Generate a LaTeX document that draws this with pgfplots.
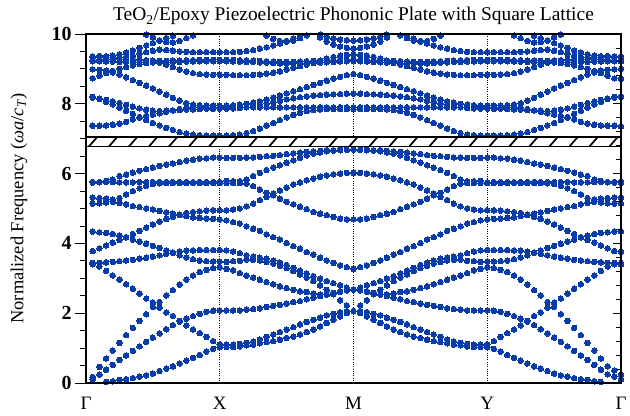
\documentclass[border=0pt]{standalone}
\usepackage{fontspec}
\setmainfont{Liberation Serif}
\usepackage{pgfplots}
\usepackage{pgfplotstable}
\pgfplotsset{compat=1.18}
\definecolor{dotblue}{RGB}{8,60,170}

% Gamma -> X
\pgfplotstableread{
band 0.05 0.10 0.15 0.20 0.25 0.30 0.35 0.40 0.45 0.50 0.55 0.60 0.65 0.70 0.75 0.80 0.85 0.90 0.95 1.00
A nan nan 0.03 0.05 0.09 0.11 0.14 0.18 0.22 0.27 0.34 0.41 0.48 0.56 0.64 0.72 0.80 0.90 0.98 1.03
B 0.10 0.24 0.38 0.52 0.66 0.79 0.92 1.05 1.18 1.30 1.42 1.54 1.66 1.76 1.84 1.92 1.98 2.04 2.07 2.08
C 0.17 0.46 0.70 0.93 1.15 1.37 1.58 1.78 1.97 2.18 2.32 2.51 2.66 2.82 2.96 3.08 3.18 3.24 3.29 3.31
D 3.44 3.34 3.21 3.08 2.96 2.83 2.70 2.56 2.42 2.30 2.16 2.02 1.92 1.78 1.65 1.53 1.43 1.32 1.20 1.11
E 3.40 3.44 3.46 3.47 3.49 3.51 3.53 3.56 3.59 3.62 3.66 3.70 3.74 3.77 3.79 3.80 3.81 3.81 3.81 3.81
F 3.78 3.86 3.94 4.02 4.10 4.18 4.27 4.36 4.45 4.54 4.62 4.70 4.76 4.82 4.87 4.90 4.92 4.94 4.95 4.95
G 4.34 4.32 4.30 4.27 4.22 4.17 4.11 4.05 3.99 3.93 3.87 3.80 3.73 3.66 3.60 3.55 3.51 3.49 3.48 3.48
H 5.14 5.15 5.17 5.19 5.16 5.12 5.07 5.04 5.00 4.97 4.93 4.89 4.85 4.81 4.78 4.75 4.73 4.71 4.70 4.69
H1 5.31 5.30 5.28 5.26 5.30 5.40 5.50 5.58 5.65 5.70 5.72 5.73 5.73 5.73 5.73 5.73 5.73 5.73 5.73 5.73
J 5.74 5.75 5.76 5.76 5.75 5.75 5.75 5.76 5.76 5.76 5.76 5.76 5.76 5.76 5.76 5.76 5.76 5.76 5.76 5.76
I 5.76 5.76 5.79 5.83 5.93 5.97 6.03 6.08 6.13 6.17 6.22 6.26 6.29 6.33 6.37 6.40 6.43 6.44 6.46 6.46
K1 7.37 7.37 7.38 7.40 7.43 7.48 7.55 7.60 7.65 7.69 7.73 7.77 7.81 7.85 7.88 7.89 7.90 7.90 7.90 7.90
L1 8.20 8.14 8.06 7.98 7.89 7.80 7.71 7.62 7.53 7.45 7.38 7.31 7.25 7.19 7.15 7.12 7.10 7.09 7.09 7.09
L2 8.18 8.15 8.11 8.07 8.02 7.97 7.92 7.87 7.83 7.80 7.79 7.80 7.81 7.82 7.83 7.84 7.85 7.86 7.86 7.86
D2 8.99 8.97 8.95 8.90 8.84 8.76 8.68 8.60 8.52 8.44 8.35 8.26 8.17 8.09 8.02 7.98 7.96 7.95 7.95 7.95
M1 8.73 8.80 8.88 8.94 9.00 9.05 9.10 9.14 9.17 9.19 9.18 9.12 9.05 8.98 8.92 8.88 8.85 8.84 8.83 8.83
Xa 9.22 9.22 9.21 9.21 9.20 9.20 9.20 9.19 9.19 9.19 9.19 9.19 9.20 9.20 9.21 9.21 9.22 9.22 9.22 9.22
Xb 9.25 9.26 9.27 9.27 9.28 9.28 9.27 9.26 9.25 9.24 9.23 9.23 9.24 9.24 9.25 9.25 9.26 9.26 9.26 9.26
X2 9.34 9.35 9.36 9.38 9.42 9.47 9.53 9.60 9.67 9.74 9.81 9.88 9.95 10.02 nan nan nan nan nan nan
X3 9.36 9.37 9.36 9.34 9.33 9.34 9.38 9.43 9.48 9.52 9.55 9.54 9.52 9.50 9.49 9.48 9.48 9.48 9.48 9.48
X4 nan nan nan nan nan nan nan 10.05 9.98 9.90 9.82 9.77 9.76 9.80 9.88 9.96 10.04 nan nan nan
}\rawGX

% Y -> Gamma
\pgfplotstableread{
band 3.05 3.10 3.15 3.20 3.25 3.30 3.35 3.40 3.45 3.50 3.55 3.60 3.65 3.70 3.75 3.80 3.85 3.90 3.95 4.00
A 0.98 0.90 0.80 0.72 0.64 0.56 0.48 0.41 0.34 0.27 0.22 0.18 0.14 0.11 0.09 0.05 0.03 nan nan nan
B 2.07 2.04 1.98 1.92 1.84 1.76 1.66 1.54 1.42 1.30 1.18 1.05 0.92 0.79 0.66 0.52 0.38 0.25 0.18 0.11
C 3.29 3.24 3.18 3.08 2.96 2.82 2.66 2.51 2.32 2.18 1.97 1.78 1.58 1.37 1.15 0.93 0.70 0.48 0.36 0.24
D 1.20 1.32 1.43 1.53 1.65 1.78 1.92 2.02 2.16 2.30 2.42 2.56 2.70 2.83 2.96 3.08 3.21 3.34 3.44 3.44
E 3.81 3.81 3.81 3.80 3.79 3.77 3.74 3.70 3.66 3.62 3.59 3.56 3.53 3.51 3.49 3.47 3.46 3.44 3.40 3.40
F 4.95 4.94 4.92 4.90 4.87 4.82 4.76 4.70 4.62 4.54 4.45 4.36 4.27 4.18 4.10 4.02 3.94 3.86 3.78 3.76
G 3.48 3.49 3.51 3.55 3.60 3.66 3.73 3.80 3.87 3.93 3.99 4.05 4.11 4.17 4.22 4.27 4.30 4.32 4.34 4.35
H 4.70 4.71 4.73 4.75 4.78 4.81 4.85 4.89 4.93 4.97 5.00 5.04 5.07 5.12 5.16 5.19 5.17 5.15 5.14 5.14
H1 5.73 5.73 5.73 5.73 5.73 5.73 5.73 5.73 5.72 5.70 5.65 5.58 5.50 5.40 5.30 5.26 5.28 5.30 5.31 5.31
J 5.76 5.76 5.76 5.76 5.76 5.76 5.76 5.76 5.76 5.76 5.76 5.76 5.75 5.75 5.75 5.76 5.76 5.75 5.74 5.74
I 6.46 6.44 6.43 6.40 6.37 6.33 6.29 6.26 6.22 6.17 6.13 6.08 6.03 5.97 5.93 5.83 5.79 5.76 5.76 5.77
K1 7.90 7.90 7.90 7.89 7.88 7.85 7.81 7.77 7.73 7.69 7.65 7.60 7.55 7.48 7.43 7.40 7.38 7.37 7.37 7.36
L1 7.09 7.09 7.10 7.12 7.15 7.19 7.25 7.31 7.38 7.45 7.53 7.62 7.71 7.80 7.89 7.98 8.06 8.14 8.20 8.22
L2 7.86 7.86 7.85 7.84 7.83 7.82 7.81 7.80 7.79 7.80 7.83 7.87 7.92 7.97 8.02 8.07 8.11 8.15 8.18 8.20
D2 7.95 7.95 7.96 7.98 8.02 8.09 8.17 8.26 8.35 8.44 8.52 8.60 8.68 8.76 8.84 8.90 8.95 8.97 8.99 9.00
M1 8.83 8.84 8.85 8.88 8.92 8.98 9.05 9.12 9.18 9.19 9.17 9.14 9.10 9.05 9.00 8.94 8.88 8.80 8.73 8.72
Xa 9.22 9.22 9.22 9.21 9.21 9.20 9.20 9.19 9.19 9.19 9.19 9.19 9.20 9.20 9.20 9.21 9.21 9.22 9.22 9.22
Xb 9.26 9.26 9.26 9.25 9.25 9.24 9.24 9.23 9.23 9.24 9.25 9.26 9.27 9.28 9.28 9.27 9.27 9.26 9.25 9.25
X2 nan nan nan nan nan 10.02 9.95 9.88 9.81 9.74 9.67 9.60 9.53 9.47 9.42 9.38 9.36 9.35 9.34 9.34
X3 9.48 9.48 9.48 9.48 9.49 9.50 9.52 9.54 9.55 9.52 9.48 9.43 9.38 9.34 9.33 9.34 9.36 9.37 9.36 9.36
X4 nan nan 10.04 9.96 9.88 9.80 9.76 9.77 9.82 9.90 9.98 10.05 nan nan nan nan nan nan nan nan
}\rawYG

% X -> M
\pgfplotstableread{
band 1.05 1.10 1.15 1.20 1.25 1.30 1.35 1.40 1.45 1.50 1.55 1.60 1.65 1.70 1.75 1.80 1.85 1.90 1.95 2.00
T1 6.45 6.45 6.45 6.46 6.46 6.48 6.50 6.51 6.53 6.56 6.58 6.60 6.62 6.64 6.65 6.67 6.67 6.69 6.69 6.69
T2 5.79 5.78 5.78 5.83 5.93 6.02 6.10 6.17 6.24 6.31 6.38 6.45 6.52 6.57 6.61 6.64 6.66 6.67 6.68 6.69
T3 5.73 5.73 5.73 5.71 5.64 5.54 5.45 5.38 5.28 5.19 5.12 5.05 4.98 4.90 4.85 4.81 4.76 4.71 4.69 4.69
T4 4.95 4.97 5.00 5.06 5.14 5.24 5.33 5.43 5.52 5.60 5.69 5.75 5.81 5.86 5.91 5.95 5.98 6.00 6.02 6.02
T5 4.66 4.61 4.57 4.49 4.42 4.36 4.26 4.18 4.11 4.01 3.92 3.85 3.75 3.68 3.59 3.51 3.44 3.37 3.32 3.27
T6 3.80 3.77 3.72 3.66 3.62 3.59 3.56 3.51 3.45 3.38 3.30 3.22 3.14 3.06 2.99 2.92 2.86 2.80 2.73 2.68
T7 3.47 3.49 3.50 3.54 3.53 3.51 3.47 3.42 3.36 3.29 3.21 3.11 3.02 2.92 2.80 2.67 2.54 2.37 2.22 2.06
T8 3.27 3.23 3.15 3.08 3.02 2.96 2.89 2.83 2.77 2.72 2.67 2.63 2.61 2.56 2.54 2.53 2.56 2.61 2.65 2.68
T9 2.08 2.08 2.08 2.10 2.12 2.14 2.18 2.21 2.24 2.27 2.32 2.35 2.40 2.44 2.49 2.54 2.58 2.62 2.65 2.68
T10 1.10 1.10 1.12 1.15 1.19 1.25 1.32 1.39 1.46 1.53 1.60 1.68 1.75 1.81 1.87 1.94 1.98 2.03 2.06 2.06
T11 1.03 1.03 1.05 1.08 1.10 1.14 1.17 1.20 1.24 1.29 1.33 1.39 1.46 1.53 1.62 1.72 1.81 1.91 2.00 2.06
V1 7.09 7.10 7.12 7.16 7.22 7.29 7.37 7.45 7.53 7.61 7.68 7.74 7.79 7.82 7.84 7.85 7.85 7.85 7.85 7.85
V2 7.86 7.87 7.88 7.90 7.93 7.97 8.01 8.05 8.09 8.13 8.16 8.19 8.21 8.23 8.25 8.26 8.27 8.28 8.29 8.29
V2b 7.90 7.90 7.90 7.90 7.90 7.90 7.90 7.90 7.90 7.90 7.90 7.90 7.90 7.90 7.90 7.90 7.90 7.90 7.90 7.90
V3 7.95 7.96 7.98 8.00 8.03 8.07 8.12 8.18 8.24 8.30 8.36 8.42 8.48 8.54 8.60 8.66 8.72 8.77 8.82 8.85
W1 8.83 8.82 8.82 8.82 8.83 8.84 8.86 8.89 8.93 8.98 9.03 9.08 9.12 9.17 9.23 9.29 9.34 9.38 9.40 9.41
W2 9.22 9.21 9.21 9.20 9.20 9.19 9.18 9.17 9.16 9.15 9.15 9.15 9.16 9.17 9.18 9.19 9.20 9.21 9.22 9.22
W2b 9.26 9.26 9.25 9.25 9.24 9.23 9.22 9.21 9.20 9.20 9.20 9.21 9.22 9.23 9.24 9.25 9.25 9.26 9.26 9.26
W3 9.48 9.48 9.49 9.51 9.54 9.58 9.62 9.67 9.73 9.80 9.87 9.94 10.02 nan nan nan nan nan nan nan
W4 nan nan nan nan nan 10.05 9.95 9.86 9.80 9.78 9.81 9.88 9.96 10.05 nan nan nan nan nan nan
W5 nan nan nan nan nan nan nan nan nan nan nan nan nan 10.06 9.98 9.92 9.87 9.84 9.82 9.81
W6 nan nan nan nan nan nan nan nan nan nan nan nan nan nan 9.90 9.78 9.70 9.64 9.60 9.58
}\rawXM

% M -> Y
\pgfplotstableread{
band 2.05 2.10 2.15 2.20 2.25 2.30 2.35 2.40 2.45 2.50 2.55 2.60 2.65 2.70 2.75 2.80 2.85 2.90 2.95 3.00
T1 6.69 6.69 6.67 6.67 6.65 6.64 6.62 6.60 6.58 6.56 6.53 6.51 6.50 6.48 6.46 6.46 6.45 6.45 6.45 6.46
T2 6.68 6.67 6.66 6.64 6.61 6.57 6.52 6.45 6.38 6.31 6.24 6.17 6.10 6.02 5.93 5.83 5.78 5.78 5.79 5.75
T3 4.69 4.71 4.76 4.81 4.85 4.90 4.98 5.05 5.12 5.19 5.28 5.38 5.45 5.54 5.64 5.71 5.73 5.73 5.73 5.73
T4 6.02 6.00 5.98 5.95 5.91 5.86 5.81 5.75 5.69 5.60 5.52 5.43 5.33 5.24 5.14 5.06 5.00 4.97 4.95 4.95
T5 3.32 3.37 3.44 3.51 3.59 3.68 3.75 3.85 3.92 4.01 4.11 4.18 4.26 4.36 4.42 4.49 4.57 4.61 4.66 4.69
T6 2.73 2.80 2.86 2.92 2.99 3.06 3.14 3.22 3.30 3.38 3.45 3.51 3.56 3.59 3.62 3.66 3.72 3.77 3.80 3.81
T7 2.22 2.37 2.54 2.67 2.80 2.92 3.02 3.11 3.21 3.29 3.36 3.42 3.47 3.51 3.53 3.54 3.50 3.49 3.47 3.48
T8 2.65 2.61 2.56 2.53 2.54 2.56 2.61 2.63 2.67 2.72 2.77 2.83 2.89 2.96 3.02 3.08 3.15 3.23 3.27 3.31
T9 2.65 2.62 2.58 2.54 2.49 2.44 2.40 2.35 2.32 2.27 2.24 2.21 2.18 2.14 2.12 2.10 2.08 2.08 2.08 2.08
T10 2.06 2.03 1.98 1.94 1.87 1.81 1.75 1.68 1.60 1.53 1.46 1.39 1.32 1.25 1.19 1.15 1.12 1.10 1.10 1.11
T11 2.00 1.91 1.81 1.72 1.62 1.53 1.46 1.39 1.33 1.29 1.24 1.20 1.17 1.14 1.10 1.08 1.05 1.03 1.03 1.03
V1 7.85 7.85 7.85 7.85 7.84 7.82 7.79 7.74 7.68 7.61 7.53 7.45 7.37 7.29 7.22 7.16 7.12 7.10 7.09 7.09
V2 8.29 8.28 8.27 8.26 8.25 8.23 8.21 8.19 8.16 8.13 8.09 8.05 8.01 7.97 7.93 7.90 7.88 7.87 7.86 7.86
V2b 7.90 7.90 7.90 7.90 7.90 7.90 7.90 7.90 7.90 7.90 7.90 7.90 7.90 7.90 7.90 7.90 7.90 7.90 7.90 7.90
V3 8.82 8.77 8.72 8.66 8.60 8.54 8.48 8.42 8.36 8.30 8.24 8.18 8.12 8.07 8.03 8.00 7.98 7.96 7.95 7.95
W1 9.40 9.38 9.34 9.29 9.23 9.17 9.12 9.08 9.03 8.98 8.93 8.89 8.86 8.84 8.83 8.82 8.82 8.82 8.83 8.83
W2 9.22 9.21 9.20 9.19 9.18 9.17 9.16 9.15 9.15 9.15 9.16 9.17 9.18 9.19 9.20 9.20 9.21 9.21 9.22 9.22
W2b 9.26 9.26 9.25 9.25 9.24 9.23 9.22 9.21 9.20 9.20 9.20 9.21 9.22 9.23 9.24 9.25 9.25 9.26 9.26 9.26
W3 nan nan nan nan nan nan 10.02 9.94 9.87 9.80 9.73 9.67 9.62 9.58 9.54 9.51 9.49 9.48 9.48 9.48
W4 nan nan nan nan nan 10.05 9.96 9.88 9.81 9.78 9.80 9.86 9.95 10.05 nan nan nan nan nan nan
W5 9.82 9.84 9.87 9.92 9.98 10.06 nan nan nan nan nan nan nan nan nan nan nan nan nan nan
W6 9.60 9.64 9.70 9.78 9.90 nan nan nan nan nan nan nan nan nan nan nan nan nan nan nan
}\rawMY

\pgfplotstabletranspose[colnames from=band]\tGX{\rawGX}
\pgfplotstabletranspose[colnames from=band]\tYG{\rawYG}
\pgfplotstabletranspose[colnames from=band]\tXM{\rawXM}
\pgfplotstabletranspose[colnames from=band]\tMY{\rawMY}

\pgfplotsset{dotsty/.style={only marks, mark=*, mark size=2.8pt,
  mark options={draw=dotblue, fill=dotblue, line width=0pt}}}

\begin{document}
\begin{tikzpicture}
\begin{axis}[
  scale only axis, width=535bp, height=349bp,
  xmin=0, xmax=4, ymin=0, ymax=10,
  clip mode=individual,
  axis line style={line width=1.1pt},
  xtick={0,1,2,3,4},
  xticklabels={Γ,X,M,Y,Γ},
  major x tick style={draw=none},
  x tick label style={font=\fontsize{19}{19}\selectfont},
  xmajorgrids,
  major x grid style={black, line width=0.6pt, dash pattern=on 0.7pt off 1.6pt},
  ytick={0,2,...,10}, minor y tick num=3,
  ytick pos=left, tick align=outside,
  major tick length=11bp, minor tick length=6bp,
  tick style={black, line width=0.9pt},
  /pgf/number format/assume math mode=true,
  y tick label style={font=\bfseries\fontsize{20}{20}\selectfont},
]
\pgfplotsinvokeforeach{A,B,C,D,E,F,G,H,H1,J,I,K1,L1,L2,D2,M1,Xa,Xb,X2,X3,X4}{
  \addplot[dotsty] table[x=colnames, y=#1] {\tGX};
  \addplot[dotsty] table[x=colnames, y=#1] {\tYG};
}
\pgfplotsinvokeforeach{T1,T2,T3,T4,T5,T6,T7,T8,T9,T10,T11,V1,V2,V2b,V3,W1,W2,W2b,W3,W4,W5,W6}{
  \addplot[dotsty] table[x=colnames, y=#1] {\tXM};
  \addplot[dotsty] table[x=colnames, y=#1] {\tMY};
}
% band gap
\fill[white] (axis cs:0,6.77) rectangle (axis cs:4,7.05);
\begin{scope}
\clip (axis cs:0,6.77) rectangle (axis cs:4,7.05);
\pgfplotsinvokeforeach{0,...,26}{
  \draw[line width=1.7pt] (axis cs:{0.02+0.1497*#1},6.77) -- (axis cs:{0.084+0.1497*#1},7.05);
}
\end{scope}
\draw[line width=1.1pt] (axis cs:0,6.77) -- (axis cs:4,6.77);
\draw[line width=1.1pt] (axis cs:0,7.05) -- (axis cs:4,7.05);
% labels
\node[anchor=base, font=\fontsize{19.5}{19.5}\selectfont, yshift=13bp] at (rel axis cs:0.5,1)
  {TeO\textsubscript{2}/Epoxy Piezoelectric Phononic Plate with Square Lattice};
\path (rel axis cs:0,0.5) ++(-67bp,0) node[rotate=90, anchor=center, font=\fontsize{18.5}{18.5}\selectfont]
  {Normalized Frequency (\textit{ωa}/\textit{c}\textsubscript{\textit{T}})};
\coordinate (SW) at (rel axis cs:0,0);
\coordinate (NE) at (rel axis cs:1,1);
\end{axis}
\begin{axis}[
  scale only axis, width=535bp, height=349bp,
  xmin=0, xmax=4, ymin=0, ymax=10,
  axis line style={line width=1.1pt},
  xtick=\empty,
  ytick={0,2,...,10}, minor y tick num=4, yticklabels={},
  ytick pos=right, tick align=inside,
  major tick length=8bp, minor tick length=5bp,
  tick style={black, line width=0.9pt},
]
\end{axis}
\pgfresetboundingbox
\path ([shift={(-86bp,-33bp)}]SW) rectangle ([shift={(9bp,34bp)}]NE);
\end{tikzpicture}
\end{document}
